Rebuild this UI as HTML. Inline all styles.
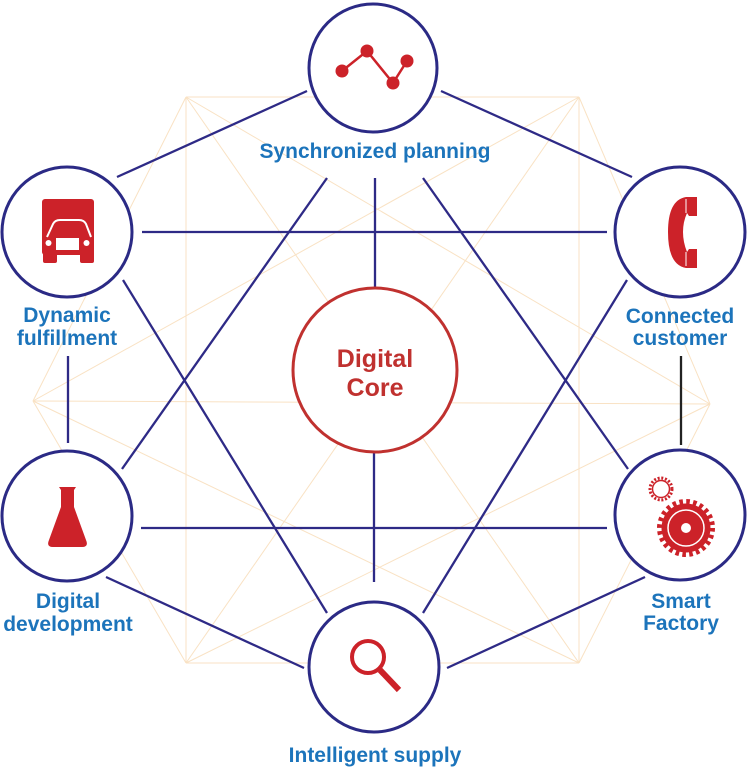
<!DOCTYPE html>
<html>
<head>
<meta charset="utf-8">
<style>
html,body{margin:0;padding:0;background:#fff;}
svg{display:block;}
text{font-family:"Liberation Sans",Arial,sans-serif;font-weight:bold;}
</style>
</head>
<body>
<svg width="748" height="768" viewBox="0 0 748 768" xmlns="http://www.w3.org/2000/svg">
<!-- lattice -->
<g stroke="#f9e2c4" stroke-width="1" fill="none">
<line x1="186" y1="97" x2="579" y2="97"/>
<line x1="186" y1="97" x2="710" y2="404"/>
<line x1="186" y1="97" x2="579" y2="663"/>
<line x1="186" y1="97" x2="186" y2="663"/>
<line x1="186" y1="97" x2="33" y2="401"/>
<line x1="579" y1="97" x2="710" y2="404"/>
<line x1="579" y1="97" x2="579" y2="663"/>
<line x1="579" y1="97" x2="186" y2="663"/>
<line x1="579" y1="97" x2="33" y2="401"/>
<line x1="710" y1="404" x2="579" y2="663"/>
<line x1="710" y1="404" x2="186" y2="663"/>
<line x1="710" y1="404" x2="33" y2="401"/>
<line x1="579" y1="663" x2="186" y2="663"/>
<line x1="579" y1="663" x2="33" y2="401"/>
<line x1="186" y1="663" x2="33" y2="401"/>
</g>
<!-- blue connectors -->
<g stroke="#2e2a86" stroke-width="2.3" fill="none">
<line x1="307" y1="91" x2="117" y2="177"/>
<line x1="441" y1="91" x2="632" y2="177"/>
<line x1="142" y1="232" x2="607" y2="232"/>
<line x1="375" y1="178" x2="375" y2="287"/>
<line x1="327" y1="178" x2="122" y2="469"/>
<line x1="423" y1="178" x2="628" y2="469"/>
<line x1="123" y1="280" x2="327" y2="613"/>
<line x1="627" y1="280" x2="423" y2="613"/>
<line x1="68" y1="356" x2="68" y2="443"/>
<line x1="141" y1="528" x2="607" y2="528"/>
<line x1="106" y1="577" x2="304" y2="668"/>
<line x1="645" y1="577" x2="447" y2="668"/>
<line x1="374" y1="453" x2="374" y2="582"/>
</g>
<line x1="681" y1="356" x2="681" y2="445" stroke="#222" stroke-width="2.3"/>

<!-- circles -->
<g fill="#fff" stroke="#2b2a85" stroke-width="3">
<circle cx="373" cy="68" r="64"/>
<circle cx="67" cy="232" r="65"/>
<circle cx="680" cy="232" r="65"/>
<circle cx="67" cy="516" r="65"/>
<circle cx="680" cy="515" r="65"/>
<circle cx="374" cy="667" r="65"/>
</g>
<circle cx="375" cy="370" r="82" fill="#fff" stroke="#c0312f" stroke-width="3"/>

<!-- icons -->
<g fill="#cc2229" stroke="none">
  <!-- line chart -->
  <polyline points="342,71 367,51 393,83 407,61" fill="none" stroke="#cc2229" stroke-width="2.5"/>
  <circle cx="342" cy="71" r="6.5"/>
  <circle cx="367" cy="51" r="6.5"/>
  <circle cx="393" cy="83" r="6.5"/>
  <circle cx="407" cy="61" r="6.5"/>

  <!-- truck -->
  <rect x="42" y="199" width="52" height="56" rx="3"/>
  <rect x="43" y="250" width="14" height="13" rx="2"/>
  <rect x="80" y="250" width="14" height="13" rx="2"/>
  <path d="M47,237 L53,224 Q55,220 60,220 L79,220 Q84,220 86,224 L91,237" fill="none" stroke="#fff" stroke-width="2"/>
  <circle cx="48.5" cy="243" r="3" fill="#fff"/>
  <circle cx="86.5" cy="243" r="3" fill="#fff"/>
  <rect x="56" y="238" width="23" height="12" fill="#fff"/>

  <!-- phone -->
  <path d="M697,197 L686,197 Q668,200 668,232 Q668,265 686,268 L697,268 L697,249 L689,249 L687,252 Q683,242 683,232 Q683,222 687,213 L689,216 L697,216 Z"/>
  <line x1="686" y1="199" x2="686" y2="213" stroke="#fff" stroke-width="1"/>
  <line x1="686" y1="252" x2="686" y2="266" stroke="#fff" stroke-width="1"/>

  <!-- flask -->
  <path d="M59,487 L76,487 L74,490 L74,507 L86,540 Q89,547 82,547 L53,547 Q46,547 49,540 L61,507 L61,490 Z"/>

  <!-- gears -->
  <circle cx="661" cy="489" r="11" fill="none" stroke="#cc2229" stroke-width="3" stroke-dasharray="2 1.7"/>
  <circle cx="661" cy="489" r="8.5" fill="#fff" stroke="#cc2229" stroke-width="1.5"/>
  <circle cx="686" cy="528" r="26.5" fill="none" stroke="#cc2229" stroke-width="5" stroke-dasharray="3.6 3.34"/>
  <circle cx="686" cy="528" r="24.5"/>
  <circle cx="686" cy="528" r="18" fill="none" stroke="#fff" stroke-width="1.5"/>
  <circle cx="686" cy="528" r="5" fill="#fff"/>

  <!-- magnifier -->
  <circle cx="368" cy="657" r="16" fill="none" stroke="#cc2229" stroke-width="4"/>
  <line x1="380" y1="670" x2="399" y2="690" stroke="#cc2229" stroke-width="6"/>
</g>

<!-- labels -->
<g fill="#1c74bb" font-size="21" text-anchor="middle">
<text x="375" y="158">Synchronized planning</text>
<text x="67" y="322">Dynamic</text>
<text x="67" y="345">fulfillment</text>
<text x="680" y="323">Connected</text>
<text x="680" y="345">customer</text>
<text x="68" y="608">Digital</text>
<text x="68" y="631">development</text>
<text x="681" y="608">Smart</text>
<text x="681" y="630">Factory</text>
<text x="375" y="762">Intelligent supply</text>
</g>
<g fill="#c0312f" font-size="25" text-anchor="middle">
<text x="375" y="367">Digital</text>
<text x="375" y="396">Core</text>
</g>
</svg>
</body>
</html>
